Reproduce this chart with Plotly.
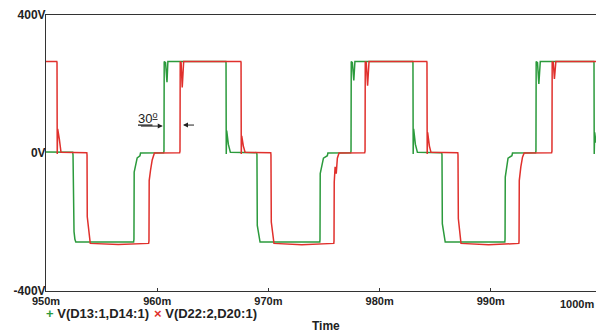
import plotly.graph_objects as go

# ---- data (time in ms, voltage in V) ----
green_t = [950.00, 952.40, 952.43, 952.46, 952.52, 952.60, 952.68,
           957.88, 957.91, 957.93, 958.05, 958.20, 958.45, 958.50,
           960.58, 960.61, 960.63, 960.75, 960.88, 960.96,
           966.17, 966.19, 966.21, 966.25, 966.40, 966.58,
           968.95, 968.97, 969.00, 969.10, 969.25,
           974.62, 974.64, 974.66, 974.80, 974.95, 975.30, 975.35,
           977.40, 977.43, 977.45, 977.55, 977.68, 977.78,
           982.98, 983.00, 983.02, 983.06, 983.22, 983.40,
           985.59, 985.61, 985.64, 985.75, 985.90,
           991.26, 991.28, 991.30, 991.40, 991.55, 991.90, 991.95,
           994.03, 994.06, 994.08, 994.20, 994.32, 994.45,
           999.26, 999.28, 999.30, 999.34, 999.46]
green_v = [3, 2, -5, -195, -228, -250, -258,
           -258, -250, -55, -35, -14, -8, 0,
           1, 5, 265, 262, 205, 265,
           265, 262, -3, 65, 25, 2,
           1, -5, -210, -235, -258,
           -258, -250, -60, -40, -15, -8, 0,
           1, 5, 265, 262, 210, 265,
           265, 262, -3, 70, 25, 2,
           1, -5, -205, -232, -258,
           -258, -250, -70, -40, -15, -8, 0,
           1, 5, 265, 262, 200, 265,
           265, 262, -3, 60, 30]

red_t = [950.00, 950.97, 950.99, 951.01, 951.05, 951.20, 951.35,
         953.67, 953.69, 953.71, 953.80, 953.88, 953.98,
         956.50,
         959.23, 959.26, 959.28, 959.40, 959.55, 959.70, 959.75,
         962.02, 962.05, 962.07, 962.15, 962.25, 962.38,
         967.52, 967.54, 967.56, 967.60, 967.75, 967.90,
         970.21, 970.23, 970.26, 970.38, 970.50,
         973.00,
         975.88, 975.90, 975.92, 976.00, 976.10, 976.20, 976.35,
         978.66, 978.69, 978.71, 978.80, 978.92, 979.05,
         984.24, 984.26, 984.28, 984.32, 984.48, 984.62,
         987.03, 987.05, 987.08, 987.20, 987.32,
         989.80,
         992.52, 992.54, 992.56, 992.70, 992.85, 993.00,
         995.47, 995.50, 995.52, 995.62, 995.72, 995.85,
         999.46]
red_v = [265, 265, 262, -3, 70, 40, 2,
         1, -5, -185, -215, -240, -262,
         -265,
         -262, -255, -80, -50, -20, -5, 0,
         1, 5, 265, 262, 190, 265,
         265, 262, -3, 50, 20, 2,
         1, -5, -200, -230, -262,
         -266,
         -262, -255, -85, -40, -60, -15, 0,
         1, 5, 265, 262, 195, 265,
         265, 262, -3, 60, 20, 2,
         1, -5, -190, -225, -262,
         -266,
         -262, -255, -80, -40, -12, 0,
         1, 5, 265, 262, 215, 265,
         265]

x_ticks = [950, 960, 970, 980, 990, 1000]
x_tick_text = ["950m", "960m", "970m", "980m", "990m", "1000m"]
y_ticks = [-400, 0, 400]
y_tick_text = ["-400V", "0V", "400V"]

GREEN = "#2b9a3c"
RED = "#e0302c"
INK = "#222222"
FONT = "Liberation Sans, Arial, sans-serif"

fig = go.Figure()
fig.add_trace(go.Scatter(x=green_t, y=green_v, mode="lines",
                         line=dict(color=GREEN, width=1.5), name="V(D13:1,D14:1)"))
fig.add_trace(go.Scatter(x=red_t, y=red_v, mode="lines",
                         line=dict(color=RED, width=1.5), name="V(D22:2,D20:1)"))

fig.update_layout(
    width=596, height=332,
    margin=dict(l=46, r=0, t=15, b=41),
    paper_bgcolor="white", plot_bgcolor="white",
    showlegend=False,
    font=dict(family=FONT, color=INK),
)
fig.update_xaxes(range=[950, 999.46], tickvals=x_ticks[:-1], ticktext=x_tick_text[:-1],
                 showgrid=False, zeroline=False, showline=True, linecolor="#333",
                 linewidth=1, mirror=True, ticks="inside", ticklen=3, tickcolor="#333",
                 tickfont=dict(size=11, family=FONT, color=INK, weight="bold"))
fig.update_yaxes(range=[-400, 400], tickvals=y_ticks, ticktext=y_tick_text,
                 showgrid=False, zeroline=False, showline=True, linecolor="#333",
                 linewidth=1, ticks="", ticklabelstandoff=-3,
                 tickfont=dict(size=12, family=FONT, color=INK, weight="bold"))

# 1000m tick label (the axis end is cut off at the right edge)
fig.add_annotation(x=1.0, y=0, xref="paper", yref="paper", xanchor="right", yanchor="top",
                   yshift=-5, text=x_tick_text[-1], showarrow=False,
                   font=dict(size=11, family=FONT, color=INK, weight="bold"))

# phase annotation
fig.add_annotation(x=959.13, y=101, text="<u>30<sup>o</sup></u>", showarrow=False,
                   font=dict(size=13, family=FONT, color=INK))
fig.add_annotation(x=960.50, y=78, ax=958.27, ay=78, axref="x", ayref="y",
                   showarrow=True, arrowhead=2, arrowsize=1, arrowwidth=1, arrowcolor=INK, text=" ")
fig.add_annotation(x=962.32, y=81, ax=963.58, ay=81, axref="x", ayref="y",
                   showarrow=True, arrowhead=2, arrowsize=1, arrowwidth=1, arrowcolor=INK, text=" ")

# legend-like labels
fig.add_annotation(x=(44 - 46) / 550, y=(291 - 313) / 276, xref="paper", yref="paper",
                   xanchor="left", yanchor="middle", showarrow=False,
                   text=f"<span style='color:{GREEN}'>+</span> V(D13:1,D14:1)",
                   font=dict(size=13, family=FONT, color=INK, weight="bold"))
fig.add_annotation(x=(152 - 46) / 550, y=(291 - 313) / 276, xref="paper", yref="paper",
                   xanchor="left", yanchor="middle", showarrow=False,
                   text=f"<span style='color:{RED}'>\u00d7</span> V(D22:2,D20:1)",
                   font=dict(size=13, family=FONT, color=INK, weight="bold"))
fig.add_annotation(x=(326 - 46) / 550, y=(291 - 326) / 276, xref="paper", yref="paper",
                   xanchor="center", yanchor="middle", showarrow=False, text="Time",
                   font=dict(size=12, family=FONT, color=INK, weight="bold"))

fig.write_html("out.html")
